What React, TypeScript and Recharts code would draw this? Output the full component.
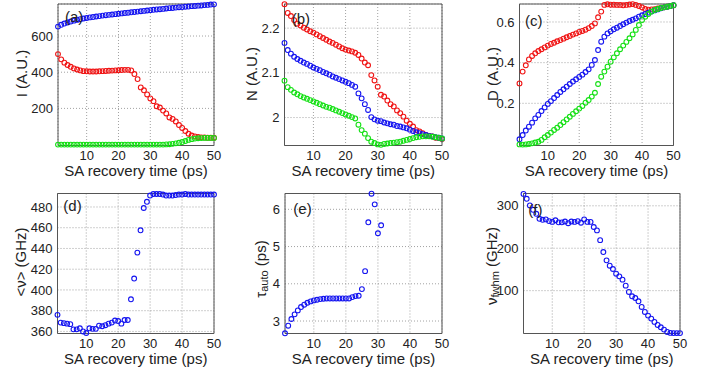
import React from 'react';
import { ScatterChart, Scatter, XAxis, YAxis, CartesianGrid, ReferenceArea } from 'recharts';

const recoveryTime = [1, 2, 3, 4, 5, 6, 7, 8, 9, 10, 11, 12, 13, 14, 15, 16, 17, 18, 19, 20, 21, 22, 23, 24, 25, 26, 27, 28, 29, 30, 31, 32, 33, 34, 35, 36, 37, 38, 39, 40, 41, 42, 43, 44, 45, 46, 47, 48, 49, 50];
const xTicks = [10, 20, 30, 40, 50];

// (a) intensity I
const intensityBlue = [652, 662, 669, 675, 680, 685, 689, 693, 697, 700, 703, 705, 708, 710, 713, 715, 717, 719, 721, 723, 725, 727, 729, 731, 733, 735, 737, 739, 741, 743, 745, 747, 748, 750, 752, 754, 755, 757, 759, 760, 762, 763, 765, 766, 768, 769, 771, 772, 774, 775];
const intensityRed = [500, 471, 453, 440, 430, 421, 415, 410, 406, 405, 404, 404, 404, 405, 406, 407, 408, 409, 410, 411, 412, 413, 413, 410, 390, 362, 316, 300, 277, 255, 240, 212, 205, 188, 172, 150, 142, 128, 108, 92, 75, 60, 50, 45, 42, 40, 39, 38, 38, 38];
const intensityGreen = [0, 0, 0, 0, 0, 0, 0, 0, 0, 0, 0, 0, 0, 0, 0, 0, 0, 0, 0, 0, 0, 0, 0, 0, 0, 0, 0, 0, 0, 0, 0, 0, 0, 0, 1, 2, 4, 7, 10, 14, 20, 26, 30, 33, 35, 36, 37, 37, 37, 37];

// (b) N
const nRed = [2.2535, 2.234, 2.227, 2.218, 2.210, 2.206, 2.201, 2.197, 2.193, 2.190, 2.186, 2.182, 2.178, 2.174, 2.170, 2.167, 2.163, 2.159, 2.155, 2.152, 2.150, 2.148, 2.145, 2.140, 2.132, 2.123, 2.117, 2.095, 2.083, 2.069, 2.051, 2.047, 2.038, 2.030, 2.025, 2.016, 2.010, 2.002, 1.993, 1.986, 1.980, 1.972, 1.969, 1.965, 1.961, 1.959, 1.958, 1.955, 1.954, 1.952];
const nBlue = [2.167, 2.151, 2.143, 2.136, 2.131, 2.127, 2.123, 2.120, 2.116, 2.112, 2.109, 2.106, 2.102, 2.099, 2.096, 2.092, 2.089, 2.086, 2.083, 2.080, 2.077, 2.073, 2.069, 2.054, 2.043, 2.030, 2.017, 2.001, 1.996, 1.993, 1.992, 1.989, 1.987, 1.985, 1.984, 1.981, 1.980, 1.978, 1.976, 1.973, 1.970, 1.967, 1.965, 1.963, 1.961, 1.959, 1.958, 1.956, 1.955, 1.953];
const nGreen = [2.0825, 2.068, 2.062, 2.056, 2.052, 2.048, 2.045, 2.042, 2.039, 2.036, 2.033, 2.030, 2.027, 2.024, 2.022, 2.019, 2.016, 2.013, 2.010, 2.007, 2.004, 2.001, 1.998, 1.984, 1.972, 1.964, 1.954, 1.946, 1.943, 1.940, 1.939, 1.941, 1.942, 1.943, 1.944, 1.945, 1.946, 1.948, 1.950, 1.952, 1.954, 1.956, 1.957, 1.958, 1.958, 1.958, 1.957, 1.956, 1.955, 1.953];

// (c) D
const dRed = [0.298, 0.356, 0.387, 0.416, 0.433, 0.446, 0.457, 0.466, 0.475, 0.484, 0.492, 0.498, 0.505, 0.511, 0.518, 0.525, 0.531, 0.538, 0.544, 0.551, 0.556, 0.562, 0.570, 0.580, 0.593, 0.623, 0.651, 0.684, 0.687, 0.685, 0.685, 0.684, 0.684, 0.682, 0.684, 0.686, 0.688, 0.684, 0.679, 0.672, 0.664, 0.661, 0.662, 0.663, 0.666, 0.669, 0.672, 0.675, 0.679, 0.682];
const dBlue = [0.023, 0.044, 0.066, 0.085, 0.105, 0.126, 0.143, 0.162, 0.180, 0.197, 0.211, 0.226, 0.241, 0.256, 0.269, 0.282, 0.295, 0.307, 0.318, 0.330, 0.341, 0.354, 0.367, 0.389, 0.413, 0.462, 0.503, 0.528, 0.544, 0.554, 0.564, 0.572, 0.580, 0.589, 0.597, 0.605, 0.611, 0.618, 0.626, 0.633, 0.639, 0.646, 0.651, 0.657, 0.662, 0.667, 0.672, 0.675, 0.679, 0.682];
const dGreen = [-0.002, -0.003, -0.002, 0.000, 0.003, 0.007, 0.011, 0.020, 0.033, 0.044, 0.056, 0.069, 0.080, 0.093, 0.107, 0.121, 0.134, 0.148, 0.161, 0.174, 0.187, 0.203, 0.216, 0.233, 0.252, 0.295, 0.331, 0.356, 0.380, 0.405, 0.426, 0.446, 0.466, 0.484, 0.502, 0.520, 0.539, 0.561, 0.585, 0.610, 0.626, 0.639, 0.651, 0.659, 0.664, 0.669, 0.672, 0.675, 0.679, 0.682];

// (d) mean frequency <v>
const meanFreq = [376, 368.5, 368, 367.5, 367, 362, 362, 363, 360, 358.5, 363, 362.5, 362.5, 365.5, 365, 366, 367.5, 368.5, 370.5, 370, 367.5, 371, 371, 391, 411, 436, 457.5, 479, 485, 491, 492.5, 492.5, 492.5, 492, 491, 491, 491, 491.5, 492, 492, 492.5, 492, 492, 492, 492, 492, 492, 492, 492, 492];

// (e) autocorrelation width
const tauAuto = [2.67, 2.875, 3.054, 3.179, 3.286, 3.375, 3.438, 3.491, 3.527, 3.554, 3.571, 3.589, 3.598, 3.607, 3.607, 3.607, 3.607, 3.607, 3.607, 3.607, 3.607, 3.643, 3.670, 3.679, 3.857, 4.339, 5.652, 6.42, 6.134, 5.357, 5.571];

// (f) spectral FWHM
const fwhm = [328, 316.5, 300.8, 290.6, 281.2, 269.4, 267, 268, 264, 262, 266, 261, 261, 263, 259, 263, 262, 264, 260, 268, 262, 262, 250, 242, 219, 191, 171.4, 158.8, 151, 140, 133.7, 125.9, 111.8, 96.9, 86.7, 82.7, 74.9, 61.6, 49.8, 41.2, 34.1, 26.3, 19.2, 13.7, 8.2, 2.7, 0.4, 0, 0, 0];

const BLUE = '#1414f0';
const RED = '#f01414';
const GREEN = '#14e014';
const FONT = '"Liberation Sans", Arial, Helvetica, sans-serif';
const TEXT = '#222';

const toPoints = (ys: number[]) => ys.map((y, i) => ({ x: recoveryTime[i], y }));

type SeriesDef = { values: number[]; color: string; name: string };

type PanelProps = {
  left: number;
  top: number;
  width: number;
  height: number;
  yAxisWidth: number;
  marginTop: number;
  marginRight: number;
  xAxisHeight: number;
  yDomain: [number, number];
  yTicks: number[];
  series: SeriesDef[];
};

const makeShape = (color: string) => (p: any) => (
  <circle cx={p.cx} cy={p.cy} r={2.4} fill="none" stroke={color} strokeWidth={1.1} />
);

function Panel(props: PanelProps) {
  const { left, top, width, height, yAxisWidth, marginTop, marginRight, xAxisHeight, yDomain, yTicks, series } = props;
  const xLabel = (lp: any) => {
    const vb = lp.viewBox || {};
    return (
      <text x={vb.x + vb.width / 2} y={vb.y + 30.5} textAnchor="middle" fontSize={15} fontFamily={FONT} fill={TEXT}>
        SA recovery time (ps)
      </text>
    );
  };
  return (
    <div style={{ position: 'absolute', left, top, width, height }}>
      <ScatterChart width={width} height={height} margin={{ top: marginTop, right: marginRight, bottom: 0, left: 0 }}>
        <CartesianGrid stroke="#8a8a8a" strokeDasharray="1 2" strokeWidth={0.8} />
        <XAxis
          type="number"
          dataKey="x"
          domain={[1, 50]}
          ticks={xTicks}
          interval={0}
          height={xAxisHeight}
          axisLine={false}
          tickLine={false}
          tickSize={3}
          tickMargin={2}
          tick={{ fontSize: 13, fill: TEXT, fontFamily: FONT }}
          label={xLabel}
        />
        <YAxis
          type="number"
          dataKey="y"
          domain={yDomain}
          ticks={yTicks}
          interval={0}
          width={yAxisWidth}
          axisLine={false}
          tickLine={false}
          tickSize={3}
          tickMargin={2}
          tick={{ fontSize: 13, fill: TEXT, fontFamily: FONT }}
        />
        <ReferenceArea x1={1} x2={50} y1={yDomain[0]} y2={yDomain[1]} fill="none" fillOpacity={0} stroke="#555" strokeWidth={1} ifOverflow="visible" />
        {series.map((s) => (
          <Scatter key={s.name} name={s.name} data={toPoints(s.values)} shape={makeShape(s.color)} isAnimationActive={false} />
        ))}
      </ScatterChart>
    </div>
  );
}

const panelLabels = [
  { text: '(a)', x: 65, y: 21.8 },
  { text: '(b)', x: 291.7, y: 23.5 },
  { text: '(c)', x: 525, y: 26.2 },
  { text: '(d)', x: 63.3, y: 211 },
  { text: '(e)', x: 293.3, y: 213.5 },
  { text: '(f)', x: 528.3, y: 215 },
];

const YLabel = ({ x, y, children }: { x: number; y: number; children: React.ReactNode }) => (
  <text x={x} y={y} transform={`rotate(-90 ${x} ${y})`} textAnchor="middle" dominantBaseline="central" fontSize={15} fontFamily={FONT} fill={TEXT}>
    {children}
  </text>
);

export default function App() {
  return (
    <div style={{ position: 'absolute', left: 0, top: 0, width: 704, height: 373, background: '#fff', overflow: 'hidden' }}>
      <Panel
        left={0} top={0} width={230} height={186} yAxisWidth={58} marginTop={4} marginRight={16} xAxisHeight={40.5}
        yDomain={[-5, 777]} yTicks={[200, 400, 600]}
        series={[{ name: 'blue', values: intensityBlue, color: BLUE }, { name: 'red', values: intensityRed, color: RED }, { name: 'green', values: intensityGreen, color: GREEN }]}
      />
      <Panel
        left={230} top={0} width={230} height={186} yAxisWidth={54.5} marginTop={4} marginRight={18} xAxisHeight={40.5}
        yDomain={[1.9375, 2.254]} yTicks={[2, 2.1, 2.2]}
        series={[{ name: 'red', values: nRed, color: RED }, { name: 'blue', values: nBlue, color: BLUE }, { name: 'green', values: nGreen, color: GREEN }]}
      />
      <Panel
        left={460} top={0} width={244} height={186} yAxisWidth={59.5} marginTop={4} marginRight={30.5} xAxisHeight={40.5}
        yDomain={[-0.0075, 0.6885]} yTicks={[0.2, 0.4, 0.6]}
        series={[{ name: 'red', values: dRed, color: RED }, { name: 'blue', values: dBlue, color: BLUE }, { name: 'green', values: dGreen, color: GREEN }]}
      />
      <Panel
        left={0} top={186} width={230} height={187} yAxisWidth={57.5} marginTop={7.5} marginRight={16} xAxisHeight={39.5}
        yDomain={[358, 493]} yTicks={[360, 380, 400, 420, 440, 460, 480]}
        series={[{ name: 'blue', values: meanFreq, color: BLUE }]}
      />
      <Panel
        left={230} top={186} width={230} height={187} yAxisWidth={55} marginTop={7.5} marginRight={18} xAxisHeight={39.5}
        yDomain={[2.665, 6.425]} yTicks={[3, 4, 5, 6]}
        series={[{ name: 'blue', values: tauAuto, color: BLUE }]}
      />
      <Panel
        left={460} top={186} width={244} height={187} yAxisWidth={63.5} marginTop={7.5} marginRight={24} xAxisHeight={39.5}
        yDomain={[-1, 329]} yTicks={[100, 200, 300]}
        series={[{ name: 'blue', values: fwhm, color: BLUE }]}
      />
      <svg width={704} height={373} style={{ position: 'absolute', left: 0, top: 0, pointerEvents: 'none' }}>
        <YLabel x={21.7} y={73.5}>I (A.U.)</YLabel>
        <YLabel x={251.7} y={74}>N (A.U.)</YLabel>
        <YLabel x={492.3} y={74}>D (A.U.)</YLabel>
        <YLabel x={20} y={262}>{'<ν> (GHz)'}</YLabel>
        <YLabel x={260} y={269}>
          <tspan>τ</tspan><tspan dy={4} fontSize={11}>auto</tspan><tspan dy={-4}> (ps)</tspan>
        </YLabel>
        <YLabel x={491} y={266}>
          <tspan>ν</tspan><tspan dy={4} fontSize={11}>fwhm</tspan><tspan dy={-4}> (GHz)</tspan>
        </YLabel>
        {panelLabels.map((l) => (
          <text key={l.text} x={l.x} y={l.y} fontSize={15} fontFamily={FONT} fill={TEXT}>{l.text}</text>
        ))}
      </svg>
    </div>
  );
}
